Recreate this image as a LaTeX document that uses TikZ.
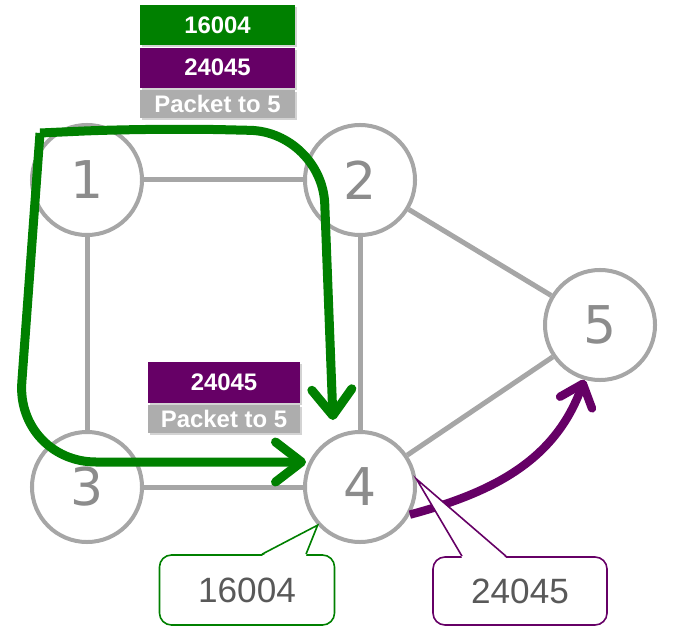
\documentclass[tikz,border=0pt]{standalone}
\usepackage{fontspec}
\setmainfont{Liberation Sans}
\newfontfamily\digitfont{DejaVu Sans}
\usepackage{tikz}
\usetikzlibrary{positioning,arrows.meta,shadows}
\definecolor{green}{HTML}{008000}
\definecolor{purple}{HTML}{660066}
\definecolor{linkgray}{HTML}{A6A6A6}
\definecolor{taggray}{HTML}{ADADAD}
\definecolor{digitgray}{HTML}{8C8C8C}
\definecolor{textgray}{HTML}{595959}

\begin{document}
\begin{tikzpicture}[x=0.025cm, y=-0.025cm, node distance=0.05cm,
  router/.style={circle, draw=linkgray, line width=0.1cm, fill=white, minimum size=2.75cm, text=digitgray, font=\digitfont\fontsize{37}{40}\selectfont},
  link/.style={draw=linkgray, line width=0.125cm},
  route/.style={green, line width=0.225cm, -{Straight Barb[round, length=0.65cm, width=1cm]}},
  tagbox/.style={minimum width=3.875cm, minimum height=1cm, inner sep=0pt, text=white, font=\bfseries\fontsize{17}{20}\selectfont, drop shadow={shadow xshift=0.05cm, shadow yshift=-0.05cm, opacity=0.35}},
  notebox/.style={rounded corners=0.3cm, fill=white, line width=0.04cm, minimum width=4.375cm, minimum height=1.75cm, text=textgray, font=\fontsize{25}{28}\selectfont}]
\useasboundingbox (0,0) rectangle (674,642);
\node[router] (n1) at (87,180) {1};
\node[router] (n2) at (360,180) {2};
\node[router] (n3) at (87,487) {3};
\node[router] (n4) at (360,487) {4};
\node[router] (n5) at (600,325) {5};
\draw[link] (n1)--(n2);
\draw[link] (n1)--(n3);
\draw[link] (n2)--(n4);
\draw[link] (n3)--(n4);
\draw[link] (n2)--(n5);
\draw[link] (n4)--(n5);
% path taken by the packet
\coordinate (gstart) at (40,133);
\coordinate (gtipdown) at (333,420);
\coordinate (gtipright) at (306,462);
\draw[route, rounded corners=1.8cm] (gstart) -- (150,128) -- (322,132) -- (gtipdown);
\draw[route, rounded corners=2cm] (gstart) -- (16,462) -- (gtipright);
\draw[purple, line width=0.21cm, -{Straight Barb[round, length=0.5cm, width=0.85cm]}] (n4.-29) to[out=15, in=250] (n5.254);
% label stacks
\node[tagbox, fill=green] (t1) at (217.5,25) {16004};
\node[tagbox, fill=purple, below=of t1] (t2) {24045};
\node[tagbox, fill=taggray, minimum height=0.7cm, below=of t2] (t3) {Packet to 5};
\node[tagbox, fill=purple, minimum width=3.8cm] (m1) at (224,382.5) {24045};
\node[tagbox, fill=taggray, minimum width=3.8cm, minimum height=0.7cm, below=of m1] (m2) {Packet to 5};
% callouts
\node[notebox, draw=green] (c1) at (247,590) {16004};
\fill[white] ([xshift=0.375cm, yshift=-0.04cm]c1.north) -- (n4.222) -- ([xshift=1.475cm, yshift=-0.04cm]c1.north) -- cycle;
\draw[green, line width=0.04cm] ([xshift=0.375cm]c1.north) -- (n4.222) -- ([xshift=1.475cm]c1.north);
\node[notebox, draw=purple, minimum width=4.35cm, minimum height=1.7cm] (c2) at (520,591) {24045};
\fill[white] ([xshift=-1.45cm, yshift=-0.04cm]c2.north) -- (n4.8) -- ([xshift=-0.35cm, yshift=-0.04cm]c2.north) -- cycle;
\draw[purple, line width=0.04cm] ([xshift=-1.45cm]c2.north) -- (n4.8) -- ([xshift=-0.35cm]c2.north);
\end{tikzpicture}
\end{document}
